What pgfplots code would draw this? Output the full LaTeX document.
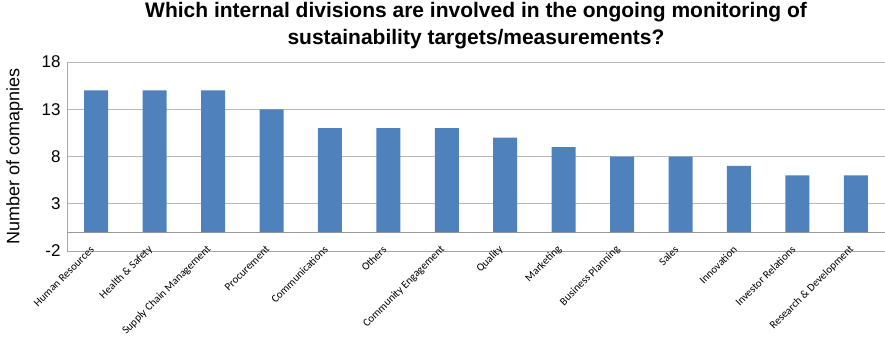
\documentclass[border=0pt]{standalone}
\usepackage{fontspec}
\setmainfont{Liberation Sans}
\newfontfamily\carlito{Carlito}
\usepackage{pgfplots}
\pgfplotsset{compat=1.18}
\usetikzlibrary{calc}
\definecolor{barblue}{HTML}{4F81BD}
\begin{document}
\begin{tikzpicture}
\begin{axis}[
  width=818pt, height=189pt, scale only axis,
  xmin=-0.5, xmax=13.5, ymin=-2, ymax=18,
  ytick={-2,3,8,13,18},
  extra y ticks={0},
  extra y tick labels={},
  extra y tick style={grid style={gray!80, line width=0.8pt}},
  ymajorgrids,
  grid style={gray!55, line width=0.8pt},
  axis x line=bottom, axis y line=left,
  axis line style={gray!70, line width=0.8pt, -},
  major tick length=0pt,
  xtick=data,
  xticklabels={Human Resources,Health \& Safety,Supply Chain Management,Procurement,Communications,Others,Community Engagement,Quality,Marketing,Business Planning,Sales,Innovation,Investor Relations,Research \& Development},
  xticklabel style={rotate=45, anchor=east, font=\carlito\fontsize{11}{13}\selectfont, xshift=3pt, yshift=5pt},
  yticklabel style={font=\fontsize{17}{20}\selectfont, xshift=-3pt},
  /pgf/number format/assume math mode=true,
  ylabel={Number of comapnies},
  ylabel style={font=\fontsize{18}{21}\selectfont, at={(axis description cs:-0.064,0.5)}, anchor=center},
  title={Which internal divisions are involved in the ongoing monitoring of\\sustainability targets/measurements?},
  title style={font=\bfseries\fontsize{21}{27}\selectfont, align=center, at={(0.5,1)}, anchor=south, yshift=4pt},
  clip=false,
]
\addplot[ybar, bar width=24pt, fill=barblue, draw=none] coordinates {
(0,15) (1,15) (2,15) (3,13) (4,11) (5,11) (6,11) (7,10) (8,9) (9,8) (10,8) (11,7) (12,6) (13,6)
};
\end{axis}
\pgfresetboundingbox
\path ($(current axis.south west)+(-67pt,-87pt)$) rectangle ($(current axis.north east)+(0pt,62pt)$);
\end{tikzpicture}
\end{document}
